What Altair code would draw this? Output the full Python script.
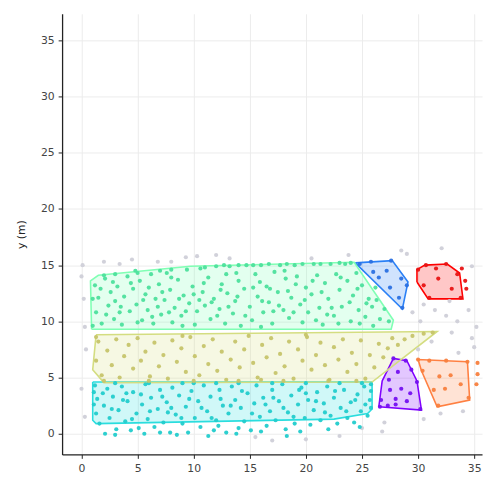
import altair as alt
import pandas as pd

# ---------------- data ----------------
GREEN = [(1.2,13.2),(1.5,12.1),(1.3,10.8),(1.8,9.8),(2.1,13.8),(2.4,11.4),(2.6,12.6),(2.9,10.2),(3.2,13.1),(3.0,11.8),
         (3.6,9.7),(3.8,12.2),(4.1,14.0),(4.3,10.9),(4.6,12.9),(4.9,11.5),(5.2,13.6),(5.4,10.1),(5.7,12.4),(5.9,11.0),
         (6.2,14.2),(6.4,9.8),(6.6,12.0),(6.9,13.3),(7.1,10.6),(7.4,11.9),(7.6,14.3),(7.9,12.8),(8.1,9.9),(8.3,11.2),
         (8.6,13.7),(8.9,10.5),(9.1,12.3),(9.4,14.6),(9.6,11.6),(9.9,13.1),(10.1,9.7),(10.3,10.9),(10.6,14.7),(10.8,12.6),
         (11.0,11.4),(11.3,13.9),(11.5,10.2),(11.8,12.0),(12.0,14.9),(12.3,11.1),(12.5,13.3),(12.8,9.8),(13.0,12.5),(13.2,14.9),
         (13.5,10.7),(13.7,11.8),(14.0,13.6),(14.2,9.6),(14.5,12.9),(14.7,15.0),(15.0,11.3),(15.2,10.1),(15.5,14.2),(15.7,12.2),
         (16.0,15.0),(16.2,10.8),(16.5,13.1),(16.7,11.7),(17.0,9.8),(17.2,14.4),(17.5,12.6),(17.7,15.0),(18.0,11.0),(18.2,13.8),
         (18.5,10.3),(18.7,12.1),(19.0,15.0),(19.2,14.0),(19.5,11.5),(19.7,9.9),(20.0,13.0),(20.2,10.8),(20.5,12.4),(20.7,15.1),
         (21.0,14.1),(21.2,11.2),(21.5,9.7),(21.7,13.4),(22.0,12.0),(22.2,15.1),(22.5,10.5),(22.7,14.2),(23.0,12.8),(23.2,11.3),
         (23.5,15.1),(23.7,13.6),(24.0,10.0),(24.2,12.3),(24.5,14.3),(24.7,11.0),(25.0,13.2),(25.3,10.4),(25.6,12.0),(25.9,11.3),
         (26.2,13.0),(26.6,10.2),(27.0,11.1),(27.4,10.0),
         (2.0,14.1),(3.0,14.2),(5.0,14.3),(7.0,14.5),(8.0,14.6),(11.0,14.8),(12.7,15.0),(14.0,15.0),(15.3,15.0),(16.7,15.1),
         (18.3,15.1),(19.7,15.1),(21.3,15.1),(23.0,15.2),(24.0,15.2),
         (2.2,10.6),(3.4,10.8),(5.0,9.9),(6.0,13.0),(7.8,10.8),(9.0,9.6),(10.5,11.9),(12.1,10.5),(13.8,14.3),(15.9,13.5),
         (17.1,10.9),(18.9,10.8),(20.9,10.1),(22.9,9.8),(24.8,9.8),(26.0,9.6),(1.0,12.0),(1.0,9.6),(4.8,14.5),(16.0,9.5),
         (1.7,12.9),(2.8,13.5),(3.5,11.3),(4.4,13.4),(5.5,11.9),(6.3,10.4),(7.2,12.6),(8.0,13.9),(8.7,12.0),(9.3,10.9),
         (10.0,12.4),(10.9,13.4),(11.6,11.7),(12.4,12.8),(13.1,11.3),(13.9,12.2),(14.6,10.5),(15.3,13.0),(16.1,11.8),(16.8,12.9),
         (17.6,11.4),(18.4,12.7),(19.1,13.3),(19.9,11.9),(20.6,13.6),(21.4,12.6),(22.3,11.2),(23.1,13.9),(23.9,11.7),(24.6,12.9),
         (25.4,11.6),(26.3,11.9),(6.8,11.3),(12.9,14.2),(18.1,14.5),(21.9,10.6)]

YELLOW = [(1.5,8.2),(1.3,6.5),(1.8,5.2),(2.3,7.4),(2.7,6.1),(3.1,8.4),(3.4,5.0),(3.8,6.9),(4.2,7.9),(4.6,5.8),
          (5.0,8.5),(5.3,6.5),(5.7,7.3),(6.1,5.1),(6.5,8.1),(6.9,6.0),(7.3,7.0),(7.7,4.9),(8.1,8.3),(8.5,6.4),
          (8.9,7.6),(9.3,5.5),(9.7,8.6),(10.1,6.9),(10.5,5.2),(10.9,7.8),(11.3,6.2),(11.7,8.4),(12.1,5.6),(12.5,7.3),
          (12.9,4.8),(13.3,6.6),(13.7,8.2),(14.1,5.9),(14.5,7.5),(14.9,8.7),(15.3,6.3),(15.7,5.0),(16.1,7.9),(16.5,6.8),
          (16.9,8.5),(17.3,5.4),(17.7,7.1),(18.1,6.0),(18.5,8.2),(18.9,4.9),(19.3,7.5),(19.7,6.5),(20.1,8.6),(20.5,5.7),
          (20.9,7.0),(21.3,8.1),(21.7,6.1),(22.1,4.8),(22.5,7.7),(22.9,6.6),(23.3,8.4),(23.7,5.5),(24.1,7.2),(24.5,6.2),
          (24.9,8.3),(25.3,4.9),(25.7,7.0),(26.1,5.9),(26.5,8.0),(26.9,6.8),(27.3,7.6),(27.7,8.5),(28.2,7.9),(28.8,8.4),
          (29.5,8.7),(30.5,8.9),(31.3,9.0),(2.0,4.7),(6.0,4.7),(10.0,4.7),(14.0,4.7),(18.0,4.7),(22.0,4.7),(24.5,4.7),
          (1.3,8.6),(9.0,8.7),(20.0,8.8),(16.0,4.8)]

CYAN = [(1.2,4.3),(1.4,3.1),(1.3,1.8),(1.6,0.9),(2.0,2.5),(2.3,4.0),(2.5,1.4),(2.8,3.3),(3.1,0.4),(3.3,2.1),
        (3.6,4.2),(3.9,1.1),(4.1,2.9),(4.4,0.3),(4.6,3.7),(4.9,1.8),(5.1,0.5),(5.4,2.6),(5.7,4.4),(5.9,1.3),
        (6.2,3.2),(6.5,0.6),(6.8,2.2),(7.0,3.9),(7.3,1.0),(7.6,2.8),(7.9,0.1),(8.1,4.1),(8.4,1.7),(8.7,3.4),
        (9.0,0.9),(9.3,2.4),(9.5,0.1),(9.8,3.8),(10.1,1.4),(10.4,2.9),(10.6,0.6),(10.9,4.3),(11.2,2.0),(11.5,3.3),
        (11.8,0.3),(12.0,1.2),(12.3,3.9),(12.6,2.5),(12.9,0.1),(13.1,1.8),(13.4,4.2),(13.7,3.0),(14.0,0.5),(14.2,2.3),
        (14.5,1.1),(14.8,3.6),(15.1,0.3),(15.4,2.7),(15.6,4.3),(15.9,1.5),(16.2,3.2),(16.5,0.7),(16.8,2.0),(17.0,3.9),
        (17.3,1.2),(17.6,2.9),(17.9,4.4),(18.2,0.4),(18.4,1.9),(18.7,3.4),(19.0,0.9),(19.3,2.6),(19.6,4.1),(19.9,1.4),
        (20.2,3.0),(20.4,0.8),(20.7,2.1),(21.0,3.7),(21.3,1.2),(21.6,2.7),(21.9,4.2),(22.2,1.6),(22.5,3.2),(22.8,0.9),
        (23.1,2.3),(23.4,3.9),(23.7,1.4),(24.0,2.8),(24.3,1.0),(24.6,3.5),(24.9,2.0),(25.2,4.2),(25.5,1.6),(25.7,3.0),
        (2.1,0.0),(3.0,-0.1),(5.6,0.0),(7.0,0.1),(8.5,-0.1),(11.3,-0.2),(13.8,0.0),(18.3,-0.2),(6.0,4.5),(10.0,4.5),
        (14.0,4.5),(17.0,4.5),(20.0,4.5),(23.0,4.5),(25.0,4.5),(3.0,4.5),(12.0,4.5),(1.1,2.6),(1.1,3.7),(4.0,3.6),
        (9.0,4.5),(16.0,0.2),(19.5,0.2),(22.0,0.4),(24.8,0.6),(25.8,2.3),(25.8,3.8),(25.8,4.4),
        (1.9,3.6),(2.7,2.2),(3.7,3.0),(4.5,1.3),(5.3,3.5),(6.1,2.0),(7.2,3.3),(8.0,2.3),(8.9,1.4),(9.6,3.1),
        (10.7,2.3),(11.6,1.4),(12.4,3.1),(13.3,2.5),(14.3,3.8),(15.2,1.8),(16.4,2.6),(17.1,3.2),(18.0,2.3),(18.9,1.5),
        (20.0,3.6),(20.9,2.9),(21.7,1.9),(22.6,3.8),(23.6,2.0),(24.4,3.0),(25.3,2.6),(19.4,3.9),(7.7,1.9),(12.2,0.7)]

BLUE = [(24.8,15.1),(25.8,15.3),(27.6,15.4),(26.0,14.4),(27.2,14.5),(27.5,13.0),(28.5,13.8),(29.0,13.2),(28.3,12.1),(28.6,11.2),(26.5,13.9)]
RED = [(30.0,14.6),(30.7,15.0),(32.5,15.1),(31.6,14.7),(33.5,14.2),(30.5,13.2),(31.8,13.8),(33.0,12.9),(31.0,12.1),(33.8,12.1),
       (34.2,13.6),(34.3,12.9),(33.9,14.7)]
PURPLE = [(27.8,6.7),(28.9,6.5),(28.2,5.5),(29.4,5.7),(27.4,4.8),(29.9,4.6),(28.5,4.0),(27.5,3.9),(29.3,3.6),(28.0,3.1),
          (26.7,3.0),(27.3,2.5),(28.0,2.6),(30.2,2.2),(26.6,2.4),(29.0,2.9)]
ORANGE = [(30.0,6.6),(31.0,6.5),(32.5,6.5),(34.4,6.4),(31.9,5.1),(32.9,5.2),(30.4,5.6),(31.4,3.9),(32.4,4.0),(33.8,4.4),
          (34.5,3.2),(31.8,2.5),(35.3,6.3),(35.3,5.3),(35.2,4.4)]
NOISE = [(0.1,15.0),(0.0,14.0),(0.2,12.0),(0.3,9.5),(0.4,7.5),(0.0,4.0),(0.3,1.5),(2.0,15.3),(4.5,15.5),(6.8,15.3),
         (9.3,15.7),(10.3,15.8),(12.0,15.9),(13.2,15.6),(3.4,15.1),(8.0,15.3),(20.5,15.6),(23.8,15.9),(29.0,16.0),(32.1,16.5),
         (30.5,11.5),(31.5,11.0),(32.5,10.5),(33.5,10.0),(34.5,11.0),(30.2,10.0),(33.0,9.0),(34.8,8.5),(31.2,8.2),(30.0,7.5),
         (33.6,7.2),(35.0,7.7),(29.5,10.8),(34.0,2.0),(32.0,1.8),(30.5,1.3),(27.0,1.0),(25.0,0.5),(23.0,-0.2),(20.0,-0.5),
         (17.0,-0.6),(15.5,-0.3),(35.2,9.5),(34.8,14.9),(28.5,16.3),(32.8,11.8),(26.8,0.2)]

HULL_GREEN = [(0.9,9.3),(0.8,13.6),(1.5,14.1),(9.7,14.9),(24.3,15.25),(27.8,10.1),(27.6,9.3)]
HULL_YELLOW = [(1.3,8.8),(31.7,9.1),(25.9,4.6),(2.0,4.55),(1.0,5.7)]
HULL_CYAN = [(1.0,4.6),(25.9,4.6),(25.9,2.2),(25.5,1.8),(22.5,1.3),(1.3,0.9),(1.0,1.2)]
HULL_BLUE = [(24.4,15.2),(27.7,15.4),(29.1,13.5),(28.6,11.1)]
HULL_RED = [(29.9,13.5),(29.9,14.6),(30.6,15.0),(32.6,15.1),(33.7,14.3),(34.0,12.0),(30.9,12.0)]
HULL_PURPLE = [(26.5,2.4),(26.8,4.7),(27.8,6.7),(29.0,6.5),(29.9,4.7),(30.3,2.1)]
HULL_ORANGE = [(30.3,5.6),(30.0,6.6),(34.4,6.4),(34.6,3.0),(31.7,2.4)]

CLUSTERS = ["purple", "blue", "cyan", "green", "yellow", "orange", "red"]
POINTS = [PURPLE, BLUE, CYAN, GREEN, YELLOW, ORANGE, RED]
HULLS = [HULL_PURPLE, HULL_BLUE, HULL_CYAN, HULL_GREEN, HULL_YELLOW, HULL_ORANGE, HULL_RED]
CMAP = ["#8000ff", "#2a80f6", "#2addde", "#80ffb4", "#d4dd80", "#ff8042", "#ff0000"]
POINT_COLORS = ["#7410f0", "#2a70e2", "#22cccc", "#4ce09c", "#c6c46a", "#f8803e", "#e81414"]

# ---------------- tables ----------------
pts_rows = []
for (x, y) in NOISE:
    pts_rows.append({"x": x, "y": y, "c": "#cfcfd8", "k": "noise"})
for name, pts, col in zip(CLUSTERS, POINTS, POINT_COLORS):
    for (x, y) in pts:
        pts_rows.append({"x": x, "y": y, "c": col, "k": name})
pts_df = pd.DataFrame(pts_rows)


def vertical_span(poly, xv):
    ys = []
    n = len(poly)
    for i in range(n):
        x1, y1 = poly[i]
        x2, y2 = poly[(i + 1) % n]
        if x1 == x2:
            if abs(x1 - xv) < 1e-9:
                ys += [y1, y2]
            continue
        lo, hi = min(x1, x2), max(x1, x2)
        if lo - 1e-9 <= xv <= hi + 1e-9:
            t = (xv - x1) / (x2 - x1)
            ys.append(y1 + t * (y2 - y1))
    return min(ys), max(ys)


area_rows, line_rows = [], []
for name, hull, col in zip(CLUSTERS, HULLS, CMAP):
    xs = sorted(set(p[0] for p in hull))
    for xv in xs:
        lo, hi = vertical_span(hull, xv)
        area_rows.append({"x": xv, "y": lo, "y2": hi, "c": col, "k": name})
    for i, (x, y) in enumerate(hull + [hull[0]]):
        line_rows.append({"x": x, "y": y, "o": i, "c": col, "k": name})
area_df = pd.DataFrame(area_rows)
line_df = pd.DataFrame(line_rows)

# ---------------- chart ----------------
TICKS = [0, 5, 10, 15, 20, 25, 30, 35]
xs = alt.Scale(domain=[-1.73, 35.7], nice=False, zero=False)
ys = alt.Scale(domain=[-1.84, 37.36], nice=False, zero=False)
xax = alt.Axis(values=TICKS, title=None, grid=True)
yax = alt.Axis(values=TICKS, title="y (m)", grid=True)

areas = alt.Chart(area_df).mark_area(opacity=0.22, strokeWidth=0, orient="vertical").encode(
    x=alt.X("x:Q", scale=xs, axis=xax),
    y=alt.Y("y:Q", scale=ys, axis=yax, stack=None),
    y2="y2:Q",
    fill=alt.Fill("c:N", scale=None),
    detail="k:N",
)
lines = alt.Chart(line_df).mark_line(strokeWidth=1.6).encode(
    x=alt.X("x:Q", scale=xs, axis=xax),
    y=alt.Y("y:Q", scale=ys, axis=yax),
    color=alt.Color("c:N", scale=None), detail="k:N", order="o:Q"
)
points = alt.Chart(pts_df).mark_circle(size=18, opacity=0.95).encode(
    x=alt.X("x:Q", scale=xs, axis=xax),
    y=alt.Y("y:Q", scale=ys, axis=yax),
    color=alt.Color("c:N", scale=None)
)

chart = alt.layer(areas, lines, points).properties(
    width=427, height=448,
    padding={"left": 55, "top": 2, "right": 2, "bottom": 16},
    autosize=alt.AutoSizeParams(type="none"),
).configure_view(stroke=None).configure_axis(
    domainColor="#222222", domainWidth=1.3, tickColor="#222222", tickSize=4,
    labelColor="#444444", labelFontSize=11, labelFont="DejaVu Sans", labelPadding=4,
    gridColor="#ececec", gridWidth=1,
    titleFont="DejaVu Sans", titleFontSize=11, titleFontWeight="normal", titleColor="#222222",
).configure_axisY(titlePadding=14)

chart.save("out.html", embed_options={"renderer": "svg", "actions": False})
